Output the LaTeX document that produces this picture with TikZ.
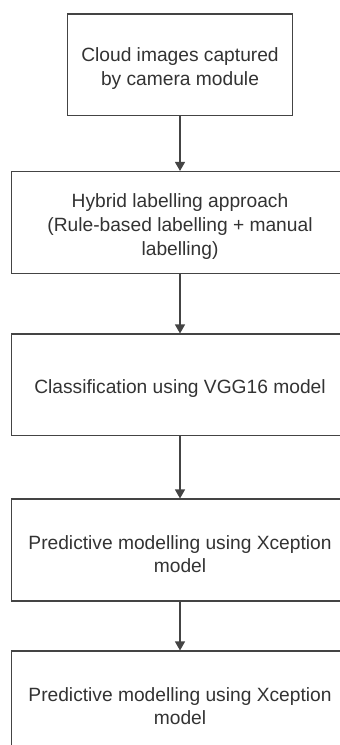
\documentclass[tikz,border=0pt]{standalone}
\usepackage{fontspec}
\setmainfont{Liberation Sans}
\usetikzlibrary{arrows.meta}
\definecolor{edgegray}{HTML}{444444}
\definecolor{textgray}{HTML}{333333}
% a taller first line sets the text slightly below the box centre
\newcommand\toppad{\rule{0pt}{22pt}}
\begin{document}
\begin{tikzpicture}[x=1pt,y=-1pt,
  stepbox/.style={draw=edgegray,line width=1.1pt,rectangle,inner sep=0pt,
    text=textgray,align=center,
    font=\fontsize{19.2pt}{23.8pt}\selectfont},
  flow/.style={draw=edgegray,line width=1.1pt,
    -{Triangle[length=9pt,width=10pt]}}]
\useasboundingbox (0,0) rectangle (340,745);
\clip (0,0) rectangle (340,745);
\fill[white] (0,0) rectangle (340,745);

\node[stepbox,minimum width=225pt,minimum height=101.5pt] (capture) at (180,64.75)
  {\toppad Cloud images captured\\by camera module};
\node[stepbox,minimum width=337pt,minimum height=102pt] (label) at (180,222.5)
  {\toppad Hybrid labelling approach\\(Rule-based labelling + manual\\labelling)};
\node[stepbox,minimum width=337pt,minimum height=101.5pt] (classify) at (180,384.75)
  {\toppad Classification using VGG16 model};
\node[stepbox,minimum width=337pt,minimum height=102pt] (predictA) at (180,550)
  {\toppad Predictive modelling using Xception\\model};
\node[stepbox,minimum width=337pt,minimum height=102pt] (predictB) at (180,702)
  {\toppad Predictive modelling using Xception\\model};

\draw[flow] (capture) -- (label);
\draw[flow] (label) -- (classify);
\draw[flow] (classify) -- (predictA);
\draw[flow] (predictA) -- (predictB);
\end{tikzpicture}
\end{document}
